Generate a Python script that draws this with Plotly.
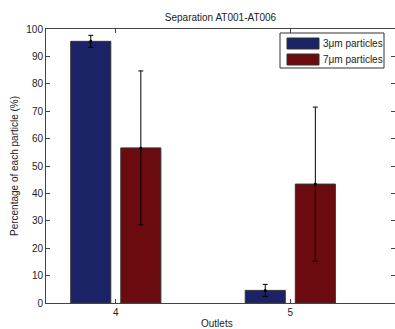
import plotly.graph_objects as go

outlets = [4, 5]
series_names = ["3μm particles", "7μm particles"]
small_vals = [95.5, 4.6]
small_err = [2.2, 2.2]
large_vals = [56.6, 43.4]
large_err = [28.1, 28.1]
colors = ["#1b2366", "#6b0b0f"]

W, H = 395, 329
L, R, T, B = 46, 0, 29, 26
pw = W - L - R
ph = H - T - B

def px(x):
    return (x - L) / pw

def py(y):
    return (H - B - y) / ph

FONT = "Liberation Sans, Arial, sans-serif"

fig = go.Figure()
for name, vals, errs, col in [
    (series_names[0], small_vals, small_err, colors[0]),
    (series_names[1], large_vals, large_err, colors[1]),
]:
    fig.add_trace(go.Bar(
        x=outlets, y=vals, name=name,
        marker=dict(color=col, line=dict(color="#333333", width=1)),
        error_y=dict(type="data", array=errs, color="#000000", thickness=1, width=2.5),
        showlegend=False,
    ))

# small centre markers of the error bars
off = 0.1435
fig.add_trace(go.Scatter(
    x=[o - off for o in outlets] + [o + off for o in outlets],
    y=small_vals + large_vals,
    mode="markers", marker=dict(color="black", size=3),
    showlegend=False, hoverinfo="skip", cliponaxis=False,
))

fig.update_layout(
    width=W, height=H,
    margin=dict(l=L, r=R, t=T, b=B, pad=0, autoexpand=False),
    barmode="group", bargap=0.426, bargroupgap=0.2,
    plot_bgcolor="white", paper_bgcolor="white",
    font=dict(family=FONT, size=10, color="#222222"),
    title=dict(text="Separation AT001-AT006", x=px(220.5), xref="paper",
               xanchor="center", y=1 - 17.5 / H, yanchor="middle",
               font=dict(size=10, color="#222222")),
    xaxis=dict(range=[3.6, 5.6], tickvals=outlets, ticktext=[str(o) for o in outlets],
               ticks="inside", ticklen=4, tickcolor="#444444",
               showline=True, linecolor="#444444", linewidth=1, mirror="ticks",
               showgrid=False, zeroline=False, automargin=False,
               tickfont=dict(size=10)),
    yaxis=dict(range=[0, 100], dtick=10, ticks="inside", ticklen=4, tickcolor="#444444",
               showline=True, linecolor="#444444", linewidth=1, mirror="ticks",
               showgrid=False, zeroline=False, automargin=False,
               tickfont=dict(size=10)),
)

# legend drawn manually to match MATLAB style
shapes = [dict(type="rect", xref="paper", yref="paper",
               x0=px(280), x1=px(384), y0=py(68), y1=py(33),
               line=dict(color="#333333", width=1), fillcolor="white", layer="above")]
annotations = [
    dict(xref="paper", yref="paper", x=px(217), y=py(323), text="Outlets",
         showarrow=False, xanchor="center", yanchor="middle",
         font=dict(size=10, color="#222222")),
    dict(xref="paper", yref="paper", x=px(14), y=py(166),
         text="Percentage of each particle (%)", textangle=-90,
         showarrow=False, xanchor="center", yanchor="middle",
         font=dict(size=10, color="#222222")),
]
for i, (name, col) in enumerate(zip(series_names, colors)):
    y0 = 38 + i * 16
    shapes.append(dict(type="rect", xref="paper", yref="paper",
                       x0=px(287), x1=px(319), y0=py(y0 + 11), y1=py(y0),
                       line=dict(color="#333333", width=1), fillcolor=col, layer="above"))
    annotations.append(dict(xref="paper", yref="paper", x=px(321), y=py(y0 + 5.5),
                            text=name, showarrow=False, xanchor="left", yanchor="middle",
                            font=dict(size=10, color="#222222")))
fig.update_layout(shapes=shapes, annotations=annotations)

fig.write_html("out.html", config={"displayModeBar": False},
               post_script="document.body.style.margin='0';document.body.style.overflow='hidden';")
